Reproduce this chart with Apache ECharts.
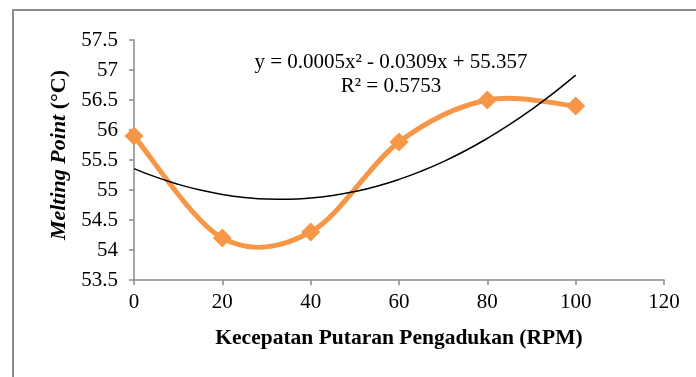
<!DOCTYPE html>
<html>
<head>
<meta charset="utf-8">
<script src="https://cdn.jsdelivr.net/npm/echarts@6/dist/echarts.min.js"></script>
<style>
html,body{margin:0;padding:0;background:#fff;}
#chart{width:696px;height:377px;}
</style>
</head>
<body>
<div id="chart"></div>
<script>
// Data
const rpm = [0, 20, 40, 60, 80, 100];
const meltingPoint = [55.9, 54.2, 54.3, 55.8, 56.5, 56.4];
// Polynomial trendline (y = 0.0005x² - 0.0309x + 55.357) values read at x steps
const trendX = [0, 5, 10, 15, 20, 25, 30, 35, 40, 45, 50, 55, 60, 65, 70, 75, 80, 85, 90, 95, 100];
const trendY = [55.357, 55.214, 55.095, 54.999, 54.926, 54.876, 54.849, 54.846, 54.866, 54.909, 54.975,
                55.064, 55.177, 55.313, 55.472, 55.654, 55.860, 56.089, 56.341, 56.616, 56.914];
const equationText = 'y = 0.0005x² - 0.0309x + 55.357';
const r2Text = 'R² = 0.5753';
const xAxisTitle = 'Kecepatan Putaran Pengadukan (RPM)';

const FONT = '"Liberation Serif", "Times New Roman", serif';
const AXIS_COLOR = '#898989';
const ORANGE = '#F79646';

const chart = echarts.init(document.getElementById('chart'), null, {renderer: 'canvas'});

function clampIdx(k) { return Math.max(0, Math.min(rpm.length - 1, k)); }

chart.setOption({
  animation: false,
  backgroundColor: '#ffffff',
  grid: {left: 134, right: 32, top: 40, bottom: 97, containLabel: false},
  xAxis: {
    type: 'value', min: 0, max: 120, interval: 20,
    name: xAxisTitle, nameLocation: 'middle', nameGap: 47,
    nameTextStyle: {fontFamily: FONT, fontSize: 21.5, fontWeight: 'bold', color: '#000'},
    axisLine: {show: true, lineStyle: {color: AXIS_COLOR, width: 1.5}},
    axisTick: {show: true, length: 5, lineStyle: {color: AXIS_COLOR, width: 1.5}},
    axisLabel: {fontFamily: FONT, fontSize: 21, color: '#000', margin: 12},
    splitLine: {show: false}
  },
  yAxis: {
    type: 'value', min: 53.5, max: 57.5, interval: 0.5,
    name: '{i|Melting Point} {b|(°C)}', nameLocation: 'middle', nameGap: 62, nameRotate: 90,
    nameTextStyle: {
      fontFamily: FONT, fontSize: 22, color: '#000',
      padding: [0, 0, 0, 10],
      rich: {
        i: {fontFamily: FONT, fontSize: 22, fontWeight: 'bold', fontStyle: 'italic', color: '#000'},
        b: {fontFamily: FONT, fontSize: 22, fontWeight: 'bold', color: '#000'}
      }
    },
    axisLine: {show: true, lineStyle: {color: AXIS_COLOR, width: 1.5}},
    axisTick: {show: true, length: 5, lineStyle: {color: AXIS_COLOR, width: 1.5}},
    axisLabel: {fontFamily: FONT, fontSize: 21, color: '#000', margin: 16},
    splitLine: {show: false}
  },
  graphic: [
    {type: 'rect', silent: true, z: -1, shape: {x: 13, y: 10, width: 900, height: 900},
     style: {fill: null, stroke: '#8c8c8c', lineWidth: 2}},
    {type: 'text', x: 391, y: 62, silent: true, z: 10,
     style: {text: equationText, font: '21px ' + FONT, fill: '#000', align: 'center', verticalAlign: 'middle'}},
    {type: 'text', x: 391, y: 86, silent: true, z: 10,
     style: {text: r2Text, font: '21px ' + FONT, fill: '#000', align: 'center', verticalAlign: 'middle'}}
  ],
  series: [
    {
      type: 'custom',
      z: 2,
      encode: {x: 0, y: 1},
      data: rpm.map((x, i) => [x, meltingPoint[i]]),
      renderItem: function (params, api) {
        const i = params.dataIndex;
        if (i >= rpm.length - 1) return null;
        const pt = k => api.coord([rpm[clampIdx(k)], meltingPoint[clampIdx(k)]]);
        const p0 = pt(i - 1), p1 = pt(i), p2 = pt(i + 1), p3 = pt(i + 2);
        const t = 1 / 6;
        return {
          type: 'bezierCurve',
          shape: {
            x1: p1[0], y1: p1[1], x2: p2[0], y2: p2[1],
            cpx1: p1[0] + (p2[0] - p0[0]) * t, cpy1: p1[1] + (p2[1] - p0[1]) * t,
            cpx2: p2[0] - (p3[0] - p1[0]) * t, cpy2: p2[1] - (p3[1] - p1[1]) * t
          },
          style: {stroke: ORANGE, lineWidth: 5, fill: null, lineCap: 'round'}
        };
      }
    },
    {
      type: 'scatter',
      z: 3,
      symbol: 'diamond',
      symbolSize: 19,
      itemStyle: {color: ORANGE, opacity: 1},
      data: rpm.map((x, i) => [x, meltingPoint[i]])
    },
    {
      type: 'line',
      z: 4,
      smooth: true,
      showSymbol: false,
      symbol: 'none',
      lineStyle: {color: '#000', width: 1.5},
      data: trendX.map((x, i) => [x, trendY[i]])
    }
  ]
});
</script>
</body>
</html>
